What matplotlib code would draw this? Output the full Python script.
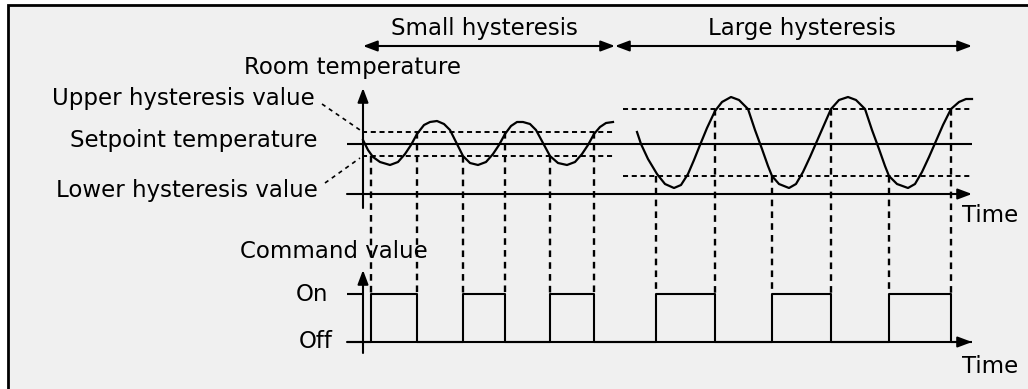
import matplotlib.pyplot as plt
from matplotlib.patches import Rectangle

# Two-point controller with small and large hysteresis.
# Time: 0 is the vertical axis; temperature: 0 is the setpoint.
SETPOINT = 0
SMALL_BAND = (12, -12)      # upper / lower hysteresis value
LARGE_BAND = (35, -32)
BAND_SPLIT = 252            # time where the large hysteresis starts

small_t = [0, 5, 10, 17, 27, 35, 42, 48, 54, 61, 67, 74, 81, 87, 93, 100, 107,
           115, 123, 130, 136, 142, 148, 154, 160, 167, 173, 180, 187, 195,
           204, 212, 219, 225, 231, 237, 243, 250]
small_temp = [4, -6, -13, -18, -21, -18, -10, -1, 10, 19, 22, 23, 20, 14, 2,
              -12, -19, -21, -18, -10, -1, 10, 18, 22, 22, 20, 14, 1, -12, -19,
              -21, -18, -10, -1, 10, 17, 21, 22]

large_t = [274, 278, 285, 294, 302, 311, 318, 325, 331, 337, 344, 352, 359,
           368, 376, 385, 392, 399, 405, 409, 416, 426, 433, 440, 447, 454,
           461, 468, 476, 485, 493, 502, 509, 516, 522, 526, 534, 545, 552,
           559, 566, 573, 580, 588, 596, 603, 609]
large_temp = [12, 0, -15, -30, -40, -44, -41, -30, -16, -1, 16, 33, 42, 47,
              44, 35, 14, -5, -22, -32, -40, -44, -40, -28, -13, 3, 19, 35,
              44, 47, 44, 35, 14, -5, -22, -32, -40, -44, -40, -28, -13, 3,
              19, 35, 42, 45, 45]

switch_on = [8, 100, 187, 293, 409, 526]     # temperature falls below lower value
switch_off = [54, 142, 231, 352, 468, 588]   # temperature rises above upper value

T_START, T_END = -16, 609
OFF_Y, ON_Y = -198, -150                     # command value levels in the lower plot

FS = 16.5
LINE = dict(color="black", lw=1.5, solid_capstyle="butt")
DASH = dict(color="black", lw=1.4, ls=(0, (2.6, 1.9)))
VDASH = dict(color="black", lw=1.7, ls=(0, (2.8, 2.2)))

fig = plt.figure(figsize=(10.28, 3.89), dpi=100)
ax = fig.add_axes([0, 0, 1, 1])
ax.set_xlim(-363, 665)
ax.set_ylim(-245, 144)
ax.axis("off")

ax.add_patch(Rectangle((-355, -300), 1200, 439, facecolor="#f0f0f0",
                       edgecolor="black", lw=2.0, zorder=0))


def arrow(x0, y0, x1, y1, style="-|>"):
    ax.annotate("", xy=(x1, y1), xytext=(x0, y0),
                arrowprops=dict(arrowstyle=style + ",head_length=0.85,head_width=0.32",
                                mutation_scale=10, color="black", lw=1.5,
                                shrinkA=0, shrinkB=0))


# temperature diagram
arrow(0, -64, 0, 56)
arrow(T_START, -50, T_END, -50)
ax.plot([T_START, T_END], [SETPOINT, SETPOINT], **LINE)
for band, (x0, x1) in [(SMALL_BAND, (-1, 250)), (LARGE_BAND, (260, T_END))]:
    for level in band:
        ax.plot([x0, x1], [level, level], **DASH)
ax.plot(small_t, small_temp, color="black", lw=1.6)
ax.plot(large_t, large_temp, color="black", lw=1.6)

# leaders to the hysteresis values
ax.plot([-41, -3], [40, 14], color="black", lw=1.2, ls=(0, (2.5, 2.5)))
ax.plot([-38, -3], [-39, -14], color="black", lw=1.2, ls=(0, (2.5, 2.5)))

# switching instants
for t in switch_on:
    band = SMALL_BAND if t < BAND_SPLIT else LARGE_BAND
    ax.plot([t, t], [band[1], ON_Y], **VDASH)
for t in switch_off:
    band = SMALL_BAND if t < BAND_SPLIT else LARGE_BAND
    ax.plot([t, t], [band[0], ON_Y], **VDASH)

# command value
cmd_t = [T_START]
cmd_state = [0]
for on, off in zip(switch_on, switch_off):
    cmd_t += [on, off]
    cmd_state += [1, 0]
cmd_t.append(T_END)
cmd_state.append(0)
cmd_y = [OFF_Y + s * (ON_Y - OFF_Y) for s in cmd_state]
ax.step(cmd_t, cmd_y, where="post", **LINE)
arrow(0, -209, 0, -126)
arrow(T_START, OFF_Y, T_END, OFF_Y)
ax.plot([T_START, 0], [ON_Y, ON_Y], **LINE)

# hysteresis ranges
arrow(0, 98, BAND_SPLIT, 98, "<|-|>")
arrow(BAND_SPLIT, 98, T_END, 98, "<|-|>")

texts = [
    ("Small hysteresis", 121, 109, "center"),
    ("Large hysteresis", 439, 109, "center"),
    ("Room temperature", -10, 70, "center"),
    ("Upper hysteresis value", -48, 39, "right"),
    ("Setpoint temperature", -45, -3, "right"),
    ("Lower hysteresis value", -45, -53, "right"),
    ("Time", 599, -78, "left"),
    ("Command value", -29, -114, "center"),
    ("On", -35, -157, "right"),
    ("Off", -30, -204, "right"),
    ("Time", 599, -229, "left"),
]
for s, x, y, ha in texts:
    ax.text(x, y, s, ha=ha, va="baseline", fontsize=FS, color="black")

fig.savefig("out.png", dpi=100, facecolor="white")
